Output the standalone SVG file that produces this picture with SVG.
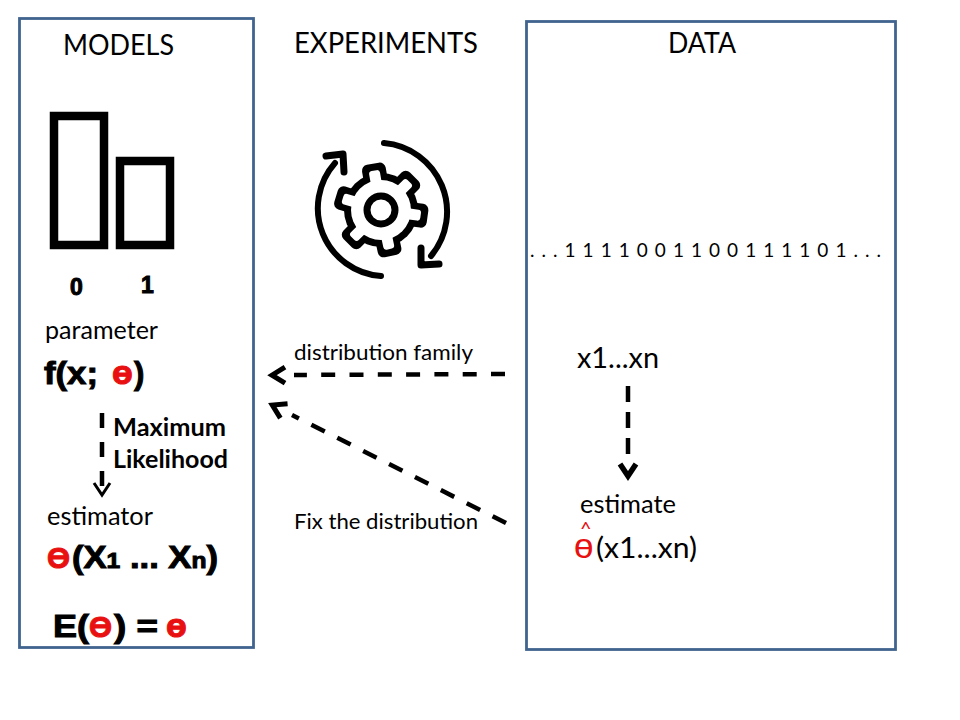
<svg xmlns="http://www.w3.org/2000/svg" width="960" height="720" viewBox="0 0 960 720">
<style>
.t{font-family:"Lato","Noto Sans",sans-serif;fill:#000}
.b{font-family:"Liberation Sans",Arial,sans-serif;font-weight:bold;fill:#000;stroke:#000;stroke-width:1}
.r{fill:#e81010;stroke:#e81010}
.panel{fill:#fff;stroke:#41648f;stroke-width:2.8}
.bar{fill:#fff;stroke:#000;stroke-width:8.500}
.dash{fill:none;stroke:#000;stroke-width:4.500}
</style>
<defs>
<marker id="chev" markerUnits="userSpaceOnUse" markerWidth="40" markerHeight="40" viewBox="-40 -20 40 40" refX="-24" refY="0" orient="auto" overflow="visible"><path d="M-15,-8 L-2,0 L-15,8" fill="none" stroke="#000" stroke-width="5"/></marker>
</defs>
<rect width="960" height="720" fill="#fff"/>
<g id="models">
<rect class="panel" x="19.500" y="18.500" width="234" height="629"/>
<text class="t" x="63" y="55" font-size="28" textLength="111" lengthAdjust="spacingAndGlyphs">MODELS</text>
<rect class="bar" x="54" y="116" width="50" height="129"/>
<rect class="bar" x="120" y="161" width="50" height="84"/>
<text class="b" x="70" y="295" font-size="23">0</text>
<text class="b" x="141" y="293" font-size="23">1</text>
<text class="t" x="45" y="339" font-size="25" textLength="113" lengthAdjust="spacingAndGlyphs">parameter</text>
<text class="b" x="44" y="384" font-size="31" textLength="54" lengthAdjust="spacingAndGlyphs">f(x;</text>
<text class="b r" x="112" y="384" font-size="34">ө</text>
<text class="b" x="134" y="384" font-size="31">)</text>
<text class="t" x="113" y="436" font-size="24" font-weight="700" textLength="113" lengthAdjust="spacingAndGlyphs">Maximum</text>
<text class="t" x="113" y="468" font-size="24" font-weight="700" textLength="115" lengthAdjust="spacingAndGlyphs">Likelihood</text>
<text class="t" x="47" y="525" font-size="25" textLength="106" lengthAdjust="spacingAndGlyphs">estimator</text>
<text class="b r" x="47" y="568" font-size="30" stroke-width="2" textLength="23" lengthAdjust="spacingAndGlyphs">Ө</text>
<text class="b" x="72" y="568" font-size="31" textLength="146" lengthAdjust="spacingAndGlyphs">(X<tspan font-size="22">1</tspan> ... X<tspan font-size="22">n</tspan>)</text>
<text class="b" x="53" y="637" font-size="31" textLength="36" lengthAdjust="spacingAndGlyphs">E(</text>
<text class="b r" x="89" y="637" font-size="30" stroke-width="2" textLength="23" lengthAdjust="spacingAndGlyphs">Ө</text>
<text class="b" x="114" y="637" font-size="31" textLength="44" lengthAdjust="spacingAndGlyphs">) =</text>
<text class="b r" x="166" y="637" font-size="34">ө</text>
</g>
<g id="experiments">
<text class="t" x="294" y="53" font-size="28" textLength="184" lengthAdjust="spacingAndGlyphs">EXPERIMENTS</text>
<g id="gear" transform="translate(381 210)">
<circle r="37" fill="#000"/>
<g fill="#000">
<rect x="-12" y="-47" width="24" height="20" rx="6" transform="rotate(-10)"/>
<rect x="-12" y="-47" width="24" height="20" rx="6" transform="rotate(45)"/>
<rect x="-12" y="-47" width="24" height="20" rx="6" transform="rotate(98)"/>
<rect x="-12" y="-47" width="24" height="20" rx="6" transform="rotate(168)"/>
<rect x="-12" y="-47" width="24" height="20" rx="6" transform="rotate(225)"/>
<rect x="-12" y="-47" width="24" height="20" rx="6" transform="rotate(287)"/>
</g>
<g fill="#fff">
<rect x="-5.500" y="-40" width="11" height="16" rx="3" transform="rotate(-10)"/>
<rect x="-5.500" y="-40" width="11" height="16" rx="3" transform="rotate(45)"/>
<rect x="-5.500" y="-40" width="11" height="16" rx="3" transform="rotate(98)"/>
<rect x="-5.500" y="-40" width="11" height="16" rx="3" transform="rotate(168)"/>
<rect x="-5.500" y="-40" width="11" height="16" rx="3" transform="rotate(225)"/>
<rect x="-5.500" y="-40" width="11" height="16" rx="3" transform="rotate(287)"/>
</g>
<circle r="30" fill="#fff"/>
<circle r="14" fill="#fff" stroke="#000" stroke-width="7"/>
</g>
<g id="cycle" fill="none" stroke="#000" stroke-linecap="round">
<path d="M384,143 A69,69 0 0 1 431,256" stroke-width="6"/>
<path d="M335,163 A68,68 0 0 0 381,276" stroke-width="6"/>
<path d="M326,156 L343,154 L344,172" stroke-width="7" stroke-linejoin="round"/>
<path d="M421,248 L421,265 L439,264" stroke-width="7" stroke-linejoin="round"/>
</g>
<text class="t" x="294" y="360" font-size="21" textLength="179" lengthAdjust="spacingAndGlyphs">distribution family</text>
<text class="t" x="294" y="529" font-size="21" textLength="184" lengthAdjust="spacingAndGlyphs">Fix the distribution</text>
</g>
<g id="data">
<rect class="panel" x="526.500" y="21.500" width="369" height="628"/>
<text class="t" x="668" y="53" font-size="28" textLength="68" lengthAdjust="spacingAndGlyphs">DATA</text>
<text class="t" x="530" y="257" font-size="19" textLength="351">. . . 1 1 1 1 0 0 1 1 0 0 1 1 1 1 0 1 . . .</text>
<text class="t" x="577" y="368" font-size="28" textLength="82" lengthAdjust="spacingAndGlyphs">x1...xn</text>
<text class="t" x="580" y="513" font-size="25" textLength="96" lengthAdjust="spacingAndGlyphs">estimate</text>
<text class="t" x="580" y="536" font-size="20" style="fill:#e81010">^</text>
<text x="574" y="558" font-size="35" font-family="Liberation Sans, sans-serif" fill="#e81010">ө</text>
<text class="t" x="596" y="558" font-size="28" textLength="101" lengthAdjust="spacingAndGlyphs">(x1...xn)</text>
</g>
<g id="connectors">
<path class="dash" stroke-dasharray="14 14.300" d="M505,374 L294,375" marker-end="url(#chev)"/>
<path class="dash" stroke-dasharray="15 14" d="M506,523 L292,415" marker-end="url(#chev)"/>
<path class="dash" stroke-dasharray="16 10" d="M628,386 L628,458"/>
<path d="M620,464 L628,476 L636,464" fill="none" stroke="#000" stroke-width="5.500"/>
<path class="dash" stroke-width="4" stroke-dasharray="15 14" d="M102,413 L102,496"/>
<path d="M94,483 L102,495 L110,483" fill="none" stroke="#000" stroke-width="3"/>
</g>
</svg>
